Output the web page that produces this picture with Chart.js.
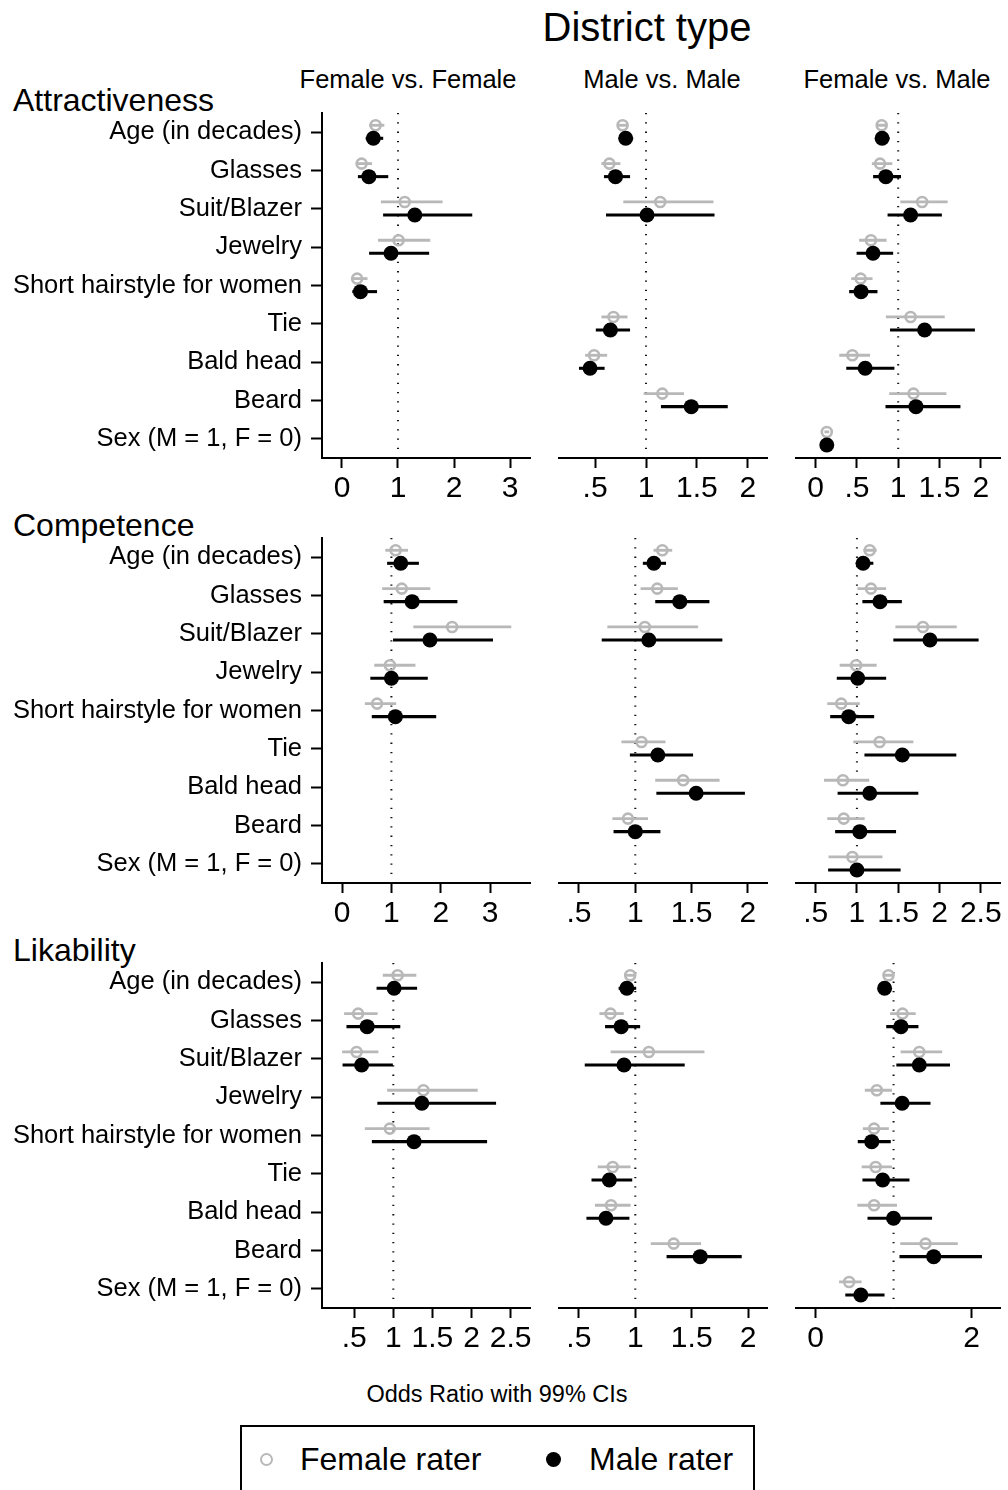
<!DOCTYPE html>
<html><head><meta charset="utf-8">
<script src="https://cdn.jsdelivr.net/npm/chart.js@4.4.1/dist/chart.umd.min.js"></script>
<style>
html,body{margin:0;padding:0;background:#fff;}
body{width:1008px;height:1490px;position:relative;overflow:hidden;font-family:"Liberation Sans",Arial,Helvetica,sans-serif;color:#000;}
canvas{position:absolute;}
.t{position:absolute;white-space:nowrap;line-height:1;}
.c{transform:translateX(-50%);}
#legend{position:absolute;left:240px;top:1425px;width:511px;height:90px;border:2px solid #000;}
.mk{position:absolute;border-radius:50%;box-sizing:border-box;}
</style></head><body>
<div class="t c" style="left:647px;top:7px;font-size:40px;">District type</div>
<div class="t c" id="col0" style="left:408px;top:67px;font-size:25.5px;"></div>
<div class="t c" id="col1" style="left:662px;top:67px;font-size:25.5px;"></div>
<div class="t c" id="col2" style="left:897px;top:67px;font-size:25.5px;"></div>
<div class="t" id="row0" style="left:13px;top:84px;font-size:32px;"></div>
<div class="t" id="row1" style="left:13px;top:509px;font-size:32px;"></div>
<div class="t" id="row2" style="left:13px;top:934px;font-size:32px;"></div>
<div class="t c" style="left:497px;top:1383px;font-size:23.5px;">Odds Ratio with 99% CIs</div>
<div id="legend">
  <div class="mk" style="left:18px;top:26px;width:13px;height:13px;border:2.5px solid #b8b8b8;"></div>
  <div class="t" id="leg0" style="left:58px;top:16px;font-size:32px;"></div>
  <div class="mk" style="left:304px;top:25px;width:15px;height:15px;background:#000;"></div>
  <div class="t" id="leg1" style="left:347px;top:16px;font-size:32px;"></div>
</div>
<script>
// ---------- data ----------
const categories = ["Age (in decades)", "Glasses", "Suit/Blazer", "Jewelry", "Short hairstyle for women", "Tie", "Bald head", "Beard", "Sex (M = 1, F = 0)"];
const rowTitles = ["Attractiveness", "Competence", "Likability"];
const columnTitles = ["Female vs. Female", "Male vs. Male", "Female vs. Male"];
const seriesNames = ["Female rater", "Male rater"];

// each entry: [odds ratio, lower 99% CI, upper 99% CI]; null = not estimated
const attrFF_female = [[0.60,0.49,0.75],[0.35,0.26,0.53],[1.12,0.70,1.79],[1.01,0.65,1.57],[0.27,0.17,0.45],null,null,null,null];
const attrFF_male   = [[0.56,0.43,0.73],[0.48,0.29,0.82],[1.30,0.74,2.32],[0.875,0.49,1.55],[0.33,0.19,0.62],null,null,null,null];
const attrMM_female = [[0.77,0.73,0.81],[0.64,0.565,0.745],[1.14,0.78,1.66],null,null,[0.68,0.565,0.815],[0.49,0.405,0.615],[1.16,0.98,1.37],null];
const attrMM_male   = [[0.80,0.74,0.87],[0.70,0.59,0.84],[1.01,0.61,1.67],null,null,[0.65,0.51,0.84],[0.45,0.345,0.59],[1.445,1.15,1.80],null];
const attrFM_female = [[0.80,0.755,0.855],[0.78,0.685,0.925],[1.29,1.03,1.595],[0.67,0.53,0.855],[0.545,0.435,0.685],[1.15,0.855,1.56],[0.445,0.29,0.655],[1.185,0.895,1.58],[0.135,0.11,0.16]];
const attrFM_male   = [[0.805,0.75,0.89],[0.85,0.70,1.03],[1.15,0.875,1.525],[0.695,0.50,0.935],[0.55,0.41,0.745],[1.32,0.905,1.925],[0.60,0.375,0.95],[1.215,0.85,1.75],[0.135,0.11,0.16]];

const compFF_female = [[1.086,0.884,1.33],[1.21,0.82,1.78],[2.23,1.45,3.42],[0.97,0.66,1.48],[0.71,0.47,1.09],null,null,null,null];
const compFF_male   = [[1.19,0.92,1.55],[1.42,0.85,2.33],[1.78,1.04,3.05],[1.0,0.58,1.73],[1.08,0.61,1.90],null,null,null,null];
const compMM_female = [[1.24,1.165,1.325],[1.195,1.05,1.375],[1.085,0.755,1.555],null,null,[1.055,0.88,1.265],[1.425,1.18,1.745],[0.935,0.80,1.11],null];
const compMM_male   = [[1.165,1.07,1.27],[1.395,1.18,1.655],[1.12,0.705,1.77],null,null,[1.20,0.955,1.51],[1.54,1.19,1.97],[1.0,0.81,1.22],null];
const compFM_female = [[1.155,1.085,1.235],[1.17,1.01,1.35],[1.80,1.47,2.205],[0.99,0.795,1.235],[0.81,0.645,1.03],[1.275,0.96,1.68],[0.83,0.605,1.145],[0.84,0.645,1.09],[0.945,0.66,1.305]];
const compFM_male   = [[1.075,0.99,1.195],[1.28,1.07,1.54],[1.885,1.445,2.47],[1.01,0.76,1.35],[0.90,0.68,1.205],[1.55,1.095,2.20],[1.155,0.77,1.74],[1.035,0.74,1.47],[1.0,0.655,1.525]];

const likFF_female = [[1.055,0.87,1.29],[0.55,0.375,0.795],[0.53,0.35,0.805],[1.385,0.925,2.075],[0.955,0.64,1.46],null,null,null,null];
const likFF_male   = [[1.01,0.79,1.30],[0.665,0.405,1.085],[0.595,0.355,0.99],[1.365,0.80,2.31],[1.265,0.73,2.195],null,null,null,null];
const likMM_female = [[0.955,0.915,0.995],[0.78,0.685,0.895],[1.12,0.785,1.61],null,null,[0.80,0.67,0.955],[0.785,0.645,0.955],[1.34,1.14,1.58],null];
const likMM_male   = [[0.925,0.855,1.005],[0.875,0.735,1.04],[0.90,0.555,1.435],null,null,[0.77,0.615,0.97],[0.74,0.57,0.945],[1.575,1.28,1.94],null];
const likFM_female = [[0.935,0.87,0.995],[1.115,0.96,1.28],[1.33,1.095,1.62],[0.785,0.635,0.975],[0.75,0.61,0.935],[0.77,0.595,0.975],[0.75,0.54,1.04],[1.41,1.09,1.82],[0.43,0.305,0.585]];
const likFM_male   = [[0.885,0.83,0.945],[1.095,0.91,1.315],[1.33,1.04,1.72],[1.11,0.835,1.47],[0.72,0.545,0.96],[0.86,0.605,1.2],[1.0,0.67,1.49],[1.515,1.08,2.13],[0.58,0.385,0.88]];

// x-axis tick values and labels for each panel (row-major)
const tickValues = [[0,1,2,3],[0.5,1,1.5,2],[0,0.5,1,1.5,2],
                    [0,1,2,3],[0.5,1,1.5,2],[0.5,1,1.5,2,2.5],
                    [0.5,1,1.5,2,2.5],[0.5,1,1.5,2],[0,2]];
const tickLabels = [["0","1","2","3"],[".5","1","1.5","2"],["0",".5","1","1.5","2"],
                    ["0","1","2","3"],[".5","1","1.5","2"],[".5","1","1.5","2","2.5"],
                    [".5","1","1.5","2","2.5"],[".5","1","1.5","2"],["0","2"]];
const referenceValue = 1;

// ---------- layout / style ----------
const FONT = '"Liberation Sans", Arial, Helvetica, sans-serif';
const GRAY = '#b8b8b8';
const panels = [
  [attrFF_female, attrFF_male], [attrMM_female, attrMM_male], [attrFM_female, attrFM_male],
  [compFF_female, compFF_male], [compMM_female, compMM_male], [compFM_female, compFM_male],
  [likFF_female, likFF_male], [likMM_female, likMM_male], [likFM_female, likFM_male]
];
const xRanges = [[-0.357,3.357],[0.145,2.189],[-0.238,2.238],
                 [-0.405,3.806],[0.323,2.169],[0.262,2.738],
                 [0.088,2.748],[0.324,2.167],[-0.252,2.371]];
const areaTop = [113, 538, 963];
const colGeom = [ // canvas left, canvas width, pad left, pad right, y-axis width
  {left:0, width:555, pl:0, pr:25, yw:322},
  {left:539, width:253, pl:20, pr:25, yw:0},
  {left:776, width:232, pl:20, pr:4, yw:0}
];
const PT = 10, AREA_H = 345, XH = 55;
const F_OFF = -0.18, M_OFF = 0.16;

document.getElementById('col0').textContent = columnTitles[0];
document.getElementById('col1').textContent = columnTitles[1];
document.getElementById('col2').textContent = columnTitles[2];
rowTitles.forEach((t,i)=>document.getElementById('row'+i).textContent = t);
document.getElementById('leg0').textContent = seriesNames[0];
document.getElementById('leg1').textContent = seriesNames[1];

function ciData(arr, off){ const out=[]; arr.forEach((d,i)=>{ if(d) out.push({y:i+off, x:[d[1],d[2]]}); }); return out; }
function ptData(arr, off){ const out=[]; arr.forEach((d,i)=>{ if(d) out.push({x:d[0], y:i+off}); }); return out; }

for (let r=0;r<3;r++){
  for (let c=0;c<3;c++){
    const p = r*3+c;
    const g = colGeom[c];
    const cv = document.createElement('canvas');
    cv.width = g.width; cv.height = PT + AREA_H + XH;
    cv.style.left = g.left+'px'; cv.style.top = (areaTop[r]-PT)+'px';
    document.body.appendChild(cv);
    const [fem, mal] = panels[p];
    const tv = tickValues[p], tl = tickLabels[p];
    new Chart(cv, {
      type: 'scatter',
      data: { datasets: [
        { type:'line', data:[{x:referenceValue,y:-0.5},{x:referenceValue,y:8.5}], borderColor:'#111', borderWidth:2,
          borderDash:[1.3,8], pointRadius:0, order:10, fill:false },
        { type:'bar', indexAxis:'y', grouped:false, data: ciData(fem, F_OFF), backgroundColor:GRAY, borderWidth:0,
          maxBarThickness:2.2, barPercentage:1, categoryPercentage:1, order:5 },
        { type:'bar', indexAxis:'y', grouped:false, data: ciData(mal, M_OFF), backgroundColor:'#000', borderWidth:0,
          maxBarThickness:2.4, barPercentage:1, categoryPercentage:1, order:5 },
        { type:'scatter', data: ptData(fem, F_OFF), pointStyle:'circle', pointRadius:5, pointBorderWidth:2.6,
          borderColor:GRAY, backgroundColor:'rgba(0,0,0,0)', order:2, clip:false },
        { type:'scatter', data: ptData(mal, M_OFF), pointStyle:'circle', pointRadius:7.5, pointBorderWidth:0,
          borderColor:'#000', backgroundColor:'#000', order:1, clip:false }
      ]},
      options: {
        responsive:false, animation:false, events:[],
        layout:{padding:{left:g.pl, right:g.pr, top:PT, bottom:0}},
        plugins:{legend:{display:false}, tooltip:{enabled:false}},
        scales:{
          x:{ type:'linear', position:'bottom', min:xRanges[p][0], max:xRanges[p][1], offset:false,
            afterBuildTicks: s => { s.ticks = tv.map(v=>({value:v})); },
            afterFit: s => { s.height = XH; s.paddingLeft = 0; s.paddingRight = 0; },
            ticks:{ callback:(v,i)=>tl[i], font:{size:30, family:FONT}, color:'#000', padding:3, maxRotation:0, autoSkip:false },
            grid:{ display:true, drawOnChartArea:false, drawTicks:true, tickLength:10, tickWidth:2, tickColor:'#000', offset:false },
            border:{ display:true, color:'#000', width:2 }
          },
          y:{ type:'linear', position:'left', reverse:true, min:-0.5, max:8.5, offset:false, display: c===0,
            afterBuildTicks: s => { s.ticks = categories.map((_,i)=>({value:i})); },
            afterFit: s => { s.width = g.yw; s.paddingTop = 0; s.paddingBottom = 0; },
            ticks:{ callback:(v,i)=>categories[i], font:{size:25.5, family:FONT}, color:'#000', padding:9, autoSkip:false },
            grid:{ display:true, drawOnChartArea:false, drawTicks:true, tickLength:11, tickWidth:2, tickColor:'#000', offset:false },
            border:{ display:true, color:'#000', width:2 }
          }
        }
      }
    });
  }
}
</script>
</body></html>
